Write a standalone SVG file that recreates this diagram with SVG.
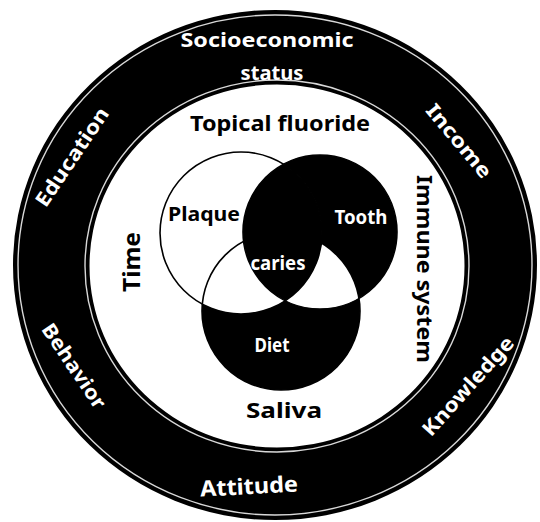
<svg xmlns="http://www.w3.org/2000/svg" width="540" height="522" viewBox="0 0 540 522">
  <style>
    .lbl { font-family: "Noto Sans", "DejaVu Sans", sans-serif; font-weight: bold; }
    .dark { fill: #000; font-size: 21px; }
    .venn { font-size: 19px; }
    .wht { fill: #fff; }
    .ring { fill: #fff; font-size: 20px; font-family: "Noto Sans", "DejaVu Sans", sans-serif; font-weight: bold; }
    .edge { fill: none; stroke: #fff; stroke-width: 1.4; opacity: 0.85; }
  </style>
  <defs>
    <clipPath id="clipT"><circle cx="320" cy="232" r="77"/></clipPath>
    <clipPath id="clipP"><circle cx="241" cy="233" r="81"/></clipPath>
  </defs>
  <rect width="540" height="522" fill="#fff"/>

  <g id="outer-ring">
    <path fill="#000" fill-rule="evenodd" d="M13,265 a262,255 0 1,0 524,0 a262,255 0 1,0 -524,0 Z M89.5,266 a187.5,181.5 0 1,0 375,0 a187.5,181.5 0 1,0 -375,0 Z"/>
    <ellipse class="edge" cx="275" cy="265" rx="257" ry="250"/>
    <ellipse class="edge" cx="277" cy="266" rx="192" ry="186"/>
    <g id="label-socioeconomic">
      <text class="ring" x="267" y="47" text-anchor="middle" textLength="173" lengthAdjust="spacingAndGlyphs">Socioeconomic</text>
      <text class="ring" x="272" y="80" text-anchor="middle" textLength="63" lengthAdjust="spacingAndGlyphs">status</text>
    </g>
    <g id="label-income">
      <text class="ring" transform="translate(459,141) rotate(50)" x="0" y="7" text-anchor="middle" textLength="90" lengthAdjust="spacingAndGlyphs">Income</text>
    </g>
    <g id="label-knowledge">
      <text class="ring" transform="translate(468,386) rotate(-48)" x="0" y="7" text-anchor="middle" textLength="126" lengthAdjust="spacingAndGlyphs">Knowledge</text>
    </g>
    <g id="label-attitude">
      <text class="ring" transform="translate(249,486) rotate(-3)" x="0" y="8" text-anchor="middle" textLength="98" lengthAdjust="spacingAndGlyphs" style="font-size:22px">Attitude</text>
    </g>
    <g id="label-behavior">
      <text class="ring" transform="translate(74,366) rotate(56)" x="0" y="7" text-anchor="middle" textLength="98" lengthAdjust="spacingAndGlyphs">Behavior</text>
    </g>
    <g id="label-education">
      <text class="ring" transform="translate(72,157) rotate(-56)" x="0" y="7" text-anchor="middle" textLength="115" lengthAdjust="spacingAndGlyphs">Education</text>
    </g>
  </g>

  <g id="inner-factors">
    <g id="topical-fluoride"><text class="lbl dark" x="280" y="131" text-anchor="middle" textLength="180" lengthAdjust="spacingAndGlyphs">Topical fluoride</text></g>
    <g id="time"><text class="lbl dark" transform="translate(140,262) rotate(-90)" x="0" y="0" text-anchor="middle" textLength="60" lengthAdjust="spacingAndGlyphs" style="font-size:23px">Time</text></g>
    <g id="immune-system"><text class="lbl dark" transform="translate(417,269) rotate(90)" x="0" y="0" text-anchor="middle" textLength="188" lengthAdjust="spacingAndGlyphs" style="font-size:22px">Immune system</text></g>
    <g id="saliva"><text class="lbl dark" x="284" y="418" text-anchor="middle" textLength="76" lengthAdjust="spacingAndGlyphs">Saliva</text></g>
  </g>

  <g id="venn">
    <circle cx="281" cy="311" r="79" fill="#000"/>
    <circle cx="320" cy="232" r="77" fill="#000"/>
    <circle cx="241" cy="233" r="81" fill="#fff"/>
    <circle cx="281" cy="311" r="79" fill="#fff" clip-path="url(#clipT)"/>
    <circle cx="320" cy="232" r="77" fill="#000" clip-path="url(#clipP)"/>
    <g fill="none" stroke="#000" stroke-width="1.6">
      <circle id="plaque-outline" cx="241" cy="233" r="81"/>
      <circle id="tooth-outline" cx="320" cy="232" r="77"/>
      <circle id="diet-outline" cx="281" cy="311" r="79"/>
    </g>
    <g id="plaque"><text class="lbl venn" x="204" y="221" text-anchor="middle" textLength="72" lengthAdjust="spacingAndGlyphs">Plaque</text></g>
    <g id="tooth"><text class="lbl venn wht" x="361" y="224" text-anchor="middle" textLength="53" lengthAdjust="spacingAndGlyphs">Tooth</text></g>
    <g id="caries"><text class="lbl venn wht" x="278" y="270" text-anchor="middle" textLength="55" lengthAdjust="spacingAndGlyphs">caries</text></g>
    <g id="diet"><text class="lbl venn wht" x="272" y="352" text-anchor="middle" textLength="35" lengthAdjust="spacingAndGlyphs">Diet</text></g>
  </g>
  <g id="connectors"/>
</svg>
